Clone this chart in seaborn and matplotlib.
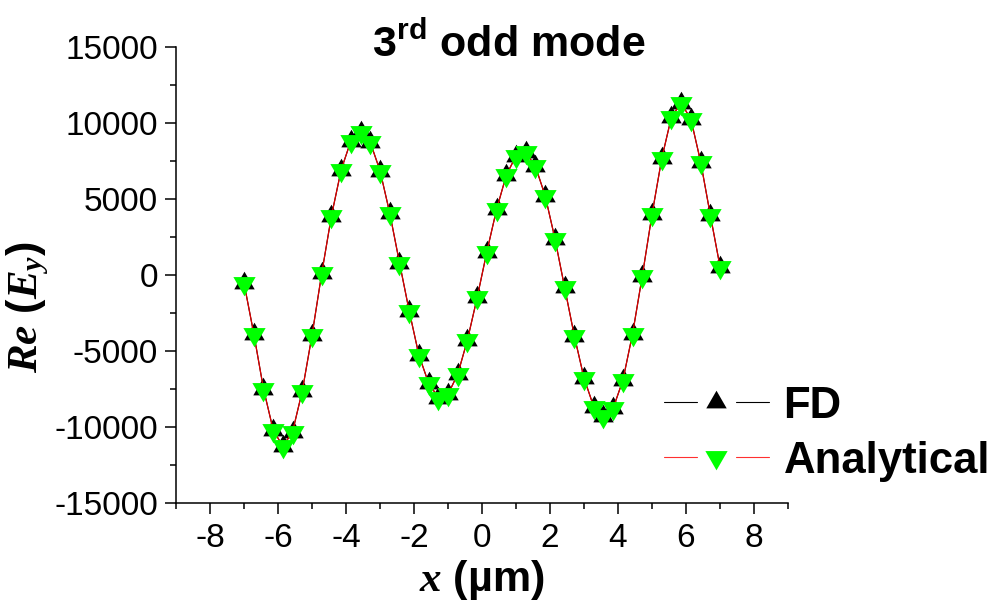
import matplotlib
matplotlib.use("Agg")
import matplotlib.pyplot as plt
from matplotlib.lines import Line2D
from matplotlib.legend_handler import HandlerTuple
from matplotlib.ticker import MultipleLocator
import pandas as pd
import seaborn as sns

# Sample positions across the guide (µm)
x_um = [-7.000, -6.714, -6.429, -6.143, -5.857, -5.571, -5.286, -5.000, -4.714, -4.429,
        -4.143, -3.857, -3.571, -3.286, -3.000, -2.714, -2.429, -2.143, -1.857, -1.571,
        -1.286, -1.000, -0.714, -0.429, -0.143, 0.143, 0.429, 0.714, 1.000, 1.286,
        1.571, 1.857, 2.143, 2.429, 2.714, 3.000, 3.286, 3.571, 3.857, 4.143,
        4.429, 4.714, 5.000, 5.286, 5.571, 5.857, 6.143, 6.429, 6.714, 7.000]

# Re(Ey) from the finite-difference solver
re_ey_fd = [-520, -3830, -7450, -10170, -11260, -10280, -7600, -3940, 140, 3910,
            6940, 8850, 9440, 8740, 6880, 4090, 840, -2340, -5250, -7100,
            -8040, -7820, -6500, -4250, -1460, 1565, 4350, 6590, 7860, 8080,
            7160, 5230, 2420, -800, -3980, -6770, -8655, -9245, -8740, -6900,
            -3830, -30, 4020, 7690, 10430, 11325, 10270, 7470, 3960, 560]

# Re(Ey) from the analytical solution
re_ey_analytical = [-520, -3830, -7450, -10170, -11260, -10280, -7600, -3940, 140, 3910,
                    6940, 8850, 9440, 8740, 6880, 4090, 840, -2340, -5250, -7100,
                    -8040, -7820, -6500, -4250, -1460, 1565, 4350, 6590, 7860, 8080,
                    7160, 5230, 2420, -800, -3980, -6770, -8655, -9245, -8740, -6900,
                    -3830, -30, 4020, 7690, 10430, 11325, 10270, 7470, 3960, 560]

x_ticks = [-8, -6, -4, -2, 0, 2, 4, 6, 8]
y_ticks = [-15000, -10000, -5000, 0, 5000, 10000, 15000]
series_labels = ["FD", "Analytical"]

sns.set_theme(style="ticks")
plt.rcParams["font.family"] = ["Liberation Sans", "DejaVu Sans"]
plt.rcParams.update({
    "axes.unicode_minus": False,
    "mathtext.fontset": "custom",
    "mathtext.rm": "Liberation Sans:bold",
    "mathtext.bf": "Liberation Sans:bold",
    "mathtext.it": "Liberation Serif:italic:bold",
    "axes.edgecolor": "black",
    "axes.linewidth": 1.1,
    "axes.labelcolor": "black",
    "text.color": "black",
    "xtick.color": "black",
    "ytick.color": "black",
    "xtick.labelcolor": "black",
    "ytick.labelcolor": "black",
})

fig = plt.figure(figsize=(10.03, 6.08), dpi=100)
ax = fig.add_axes([0.1755, 0.1722, 0.6102, 0.75])

# Triangles centred on their centroid so the two symbols interlock
tri_up = [(0, 0.5774), (-0.5, -0.2887), (0.5, -0.2887), (0, 0.5774)]
tri_down = [(0, -0.5774), (0.5, 0.2887), (-0.5, 0.2887), (0, -0.5774)]

df = pd.DataFrame({"x": x_um, "fd": re_ey_fd, "analytical": re_ey_analytical})

sns.lineplot(data=df, x="x", y="fd", ax=ax, sort=False, estimator=None, legend=False,
             color="black", linewidth=0.8, marker=tri_up, markersize=17,
             markerfacecolor="black", markeredgecolor="black", markeredgewidth=0)
sns.lineplot(data=df, x="x", y="analytical", ax=ax, sort=False, estimator=None, legend=False,
             color="#e00000", linewidth=0.9, marker=tri_down, markersize=18.5,
             markerfacecolor="#00ff00", markeredgecolor="#00ff00", markeredgewidth=0)

ax.set_xlim(-9, 9)
ax.set_ylim(-15000, 15000)
ax.set_xticks(x_ticks)
ax.set_xticklabels([str(t) for t in x_ticks])
ax.set_yticks(y_ticks)
ax.set_yticklabels([str(t) for t in y_ticks])
ax.xaxis.set_minor_locator(MultipleLocator(1))
ax.yaxis.set_minor_locator(MultipleLocator(2500))
ax.tick_params(which="major", direction="out", length=8, width=1.1, labelsize=24, pad=6)
ax.tick_params(which="minor", direction="out", length=4, width=1.1)
ax.tick_params(axis="y", which="major", pad=5)
sns.despine(ax=ax)

ax.set_xlabel(r"$\mathit{x}$ (µm)", fontsize=31, fontweight="bold")
ax.set_ylabel(r"$\mathit{Re}$ ($\mathit{E_y}$)", fontsize=31, fontweight="bold")
ax.xaxis.set_label_coords(0.5, -0.12)
ax.yaxis.set_label_coords(-0.205, 0.43)

ax.text(0.544, 0.979, r"3$\mathrm{^{rd}}$ odd mode", transform=ax.transAxes,
        ha="center", va="baseline", fontsize=31, fontweight="bold")

fd_handle = (Line2D([], [], color="black", linewidth=0.8),
             Line2D([], [], linestyle="none", marker=tri_up, markersize=17,
                    markerfacecolor="black", markeredgewidth=0),
             Line2D([], [], color="black", linewidth=0.8))
an_handle = (Line2D([], [], color="#ff3030", linewidth=0.8),
             Line2D([], [], linestyle="none", marker=tri_down, markersize=18.5,
                    markerfacecolor="#00ff00", markeredgewidth=0),
             Line2D([], [], color="#ff3030", linewidth=0.8))

ax.legend([fd_handle, an_handle], series_labels,
          handler_map={tuple: HandlerTuple(ndivide=None, pad=0.07)},
          loc="center left", bbox_to_anchor=(0.662, 0.287), bbox_transform=fig.transFigure,
          frameon=False, borderpad=0, borderaxespad=0, numpoints=1,
          handlelength=2.4, handletextpad=0.33, labelspacing=0.32,
          prop={"weight": "bold", "size": 31.5})

fig.savefig("out.png", dpi=100)
